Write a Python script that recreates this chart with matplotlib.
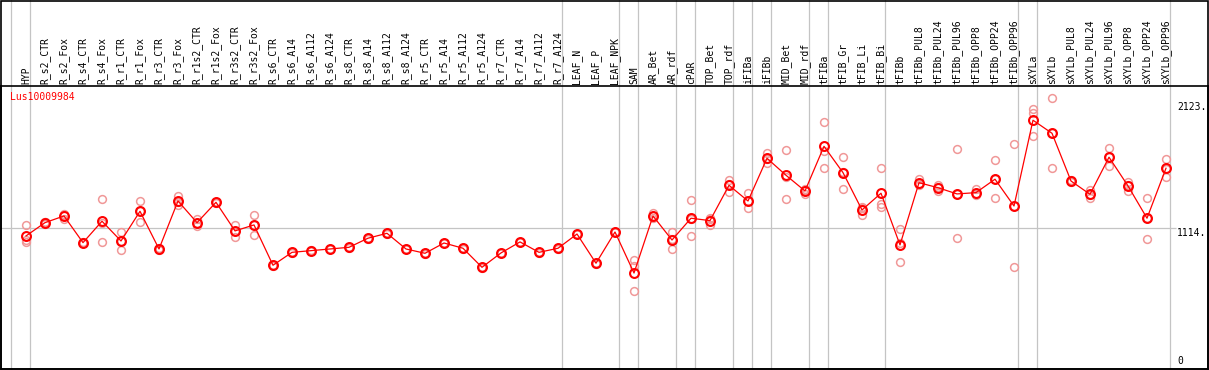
import matplotlib
matplotlib.use("Agg")
import matplotlib.pyplot as plt
from matplotlib.transforms import blended_transform_factory
from matplotlib.patches import Rectangle

gene = "Lus10009984"

samples = ["HYP", "R_s2_CTR", "R_s2_Fox", "R_s4_CTR", "R_s4_Fox", "R_r1_CTR", "R_r1_Fox",
           "R_r3_CTR", "R_r3_Fox", "R_r1s2_CTR", "R_r1s2_Fox", "R_r3s2_CTR", "R_r3s2_Fox",
           "R_s6_CTR", "R_s6_A14", "R_s6_A112", "R_s6_A124", "R_s8_CTR", "R_s8_A14",
           "R_s8_A112", "R_s8_A124", "R_r5_CTR", "R_r5_A14", "R_r5_A112", "R_r5_A124",
           "R_r7_CTR", "R_r7_A14", "R_r7_A112", "R_r7_A124", "LEAF_N", "LEAF_P", "LEAF_NPK",
           "SAM", "AR_Bet", "AR_rdf", "cPAR", "TOP_Bet", "TOP_rdf", "iFIBa", "iFIBb",
           "MID_Bet", "MID_rdf", "tFIBa", "tFIB_Gr", "tFIB_Li", "tFIB_Bi", "tFIBb",
           "tFIBb_PUL8", "tFIBb_PUL24", "tFIBb_PUL96", "tFIBb_OPP8", "tFIBb_OPP24",
           "tFIBb_OPP96", "sXYLa", "sXYLb", "sXYLb_PUL8", "sXYLb_PUL24", "sXYLb_PUL96",
           "sXYLb_OPP8", "sXYLb_OPP24", "sXYLb_OPP96"]

means = [1045, 1156, 1212, 989, 1168, 1003, 1251, 936, 1337, 1156, 1326, 1087, 1137,
         800, 908, 922, 936, 950, 1026, 1067, 936, 900, 986, 942, 783, 903, 995, 908,
         942, 1061, 817, 1078, 735, 1212, 1011, 1193, 1173, 1468, 1337, 1694, 1552,
         1421, 1794, 1574, 1262, 1402, 970, 1490, 1448, 1396, 1407, 1519, 1295, 2012,
         1903, 1504, 1393, 1703, 1463, 1193, 1611]

replicates = [
    [1137, 1011, 995], [1145, 1160, 1165], [1220, 1187, 1230], [985, 990, 993],
    [1354, 995, 1155], [1076, 928, 1005], [1335, 1162, 1256], [930, 936, 942],
    [1382, 1301, 1328], [1187, 1128, 1153], [1320, 1326, 1332], [1137, 1034, 1090],
    [1220, 1051, 1140], [797, 800, 803], [905, 908, 911], [919, 922, 925],
    [933, 936, 939], [947, 950, 953], [1023, 1026, 1029], [1064, 1067, 1070],
    [933, 936, 939], [897, 900, 903], [983, 986, 989], [939, 942, 945],
    [780, 783, 786], [900, 903, 906], [992, 995, 998], [905, 908, 911],
    [939, 942, 945], [1058, 1061, 1064], [814, 817, 820], [1075, 1078, 1081],
    [844, 797, 585], [1234, 1193, 1210], [1076, 936, 1021], [1346, 1045, 1188],
    [1198, 1137, 1184], [1513, 1415, 1476], [1402, 1276, 1333], [1741, 1652, 1689],
    [1761, 1354, 1541], [1393, 1430, 1440], [1995, 1758, 1611], [1703, 1438, 1581],
    [1285, 1220, 1281], [1611, 1312, 1285], [1101, 825, 984], [1521, 1471, 1478],
    [1471, 1423, 1450], [1769, 1026, 1393], [1435, 1387, 1399], [1677, 1360, 1520],
    [1811, 783, 1291], [2106, 2070, 1881], [2196, 1611, 1902], [1495, 1504, 1513],
    [1429, 1365, 1385], [1778, 1630, 1701], [1499, 1423, 1467], [1360, 1020, 1199],
    [1686, 1540, 1607]]

# group separators: drawn after these sample indices (-1 = left edge)
group_breaks = [-1, 0, 28, 31, 32, 34, 35, 37, 38, 39, 41, 42, 45, 52, 53, 60]

y_ticks = [2123, 1114, 0]
y_tick_labels = ["2123.", "1114.", "0"]
ref_level = 1114

W, H = 1209, 370
fig = plt.figure(figsize=(W / 100, H / 100), dpi=100)
mono = "DejaVu Sans Mono"

# axes: pixel x 1..1208, y 86..369 (from top)
ax = fig.add_axes([1 / W, (H - 369) / H, 1207 / W, (369 - 86) / H])
ax.set_xlim((1 - 26) / 19, (1208 - 26) / 19)
ax.set_ylim(-67, 2298)
for s in ax.spines.values():
    s.set_color("black")
    s.set_linewidth(1.2)
ax.set_yticks([])
ax.set_xticks(range(len(samples)))
ax.xaxis.tick_top()
ax.set_xticklabels(samples, rotation=90, fontsize=7, family=mono)
ax.tick_params(axis="x", length=0, pad=1.5)

# grid lines
ytop = (369 - 0) / (369 - 86)
for b in group_breaks:
    ax.axvline(b + 0.2, ymin=0, ymax=ytop, color="#c4c4c4", lw=0.9, clip_on=False, zorder=0)
ax.hlines(ref_level, ax.get_xlim()[0], (1176 - 26) / 19, color="#c4c4c4", lw=0.9, zorder=0)

x = list(range(len(samples)))
for i, reps in enumerate(replicates):
    ax.plot([i] * len(reps), reps, linestyle="none", marker="o", ms=5.6,
            mfc="none", mec="#f09898", mew=1.1, zorder=2)
ax.plot(x, means, color="red", lw=0.9, zorder=3)
ax.plot(x, means, linestyle="none", marker="o", ms=6.4, mfc="none", mec="red",
        mew=1.5, zorder=4)

# y labels on the right
tr = blended_transform_factory(ax.transAxes, ax.transData)
xl = (1177 - 1) / 1207
for v, lab in zip(y_ticks, y_tick_labels):
    va = "top" if v == ref_level else "center"
    ax.text(xl, v, lab, transform=tr, ha="left", va=va, fontsize=7, family=mono,
            color="black")

fig.text(10 / W, 1 - 97 / H, gene, color="red", fontsize=7, family=mono,
         ha="left", va="center")

# figure border
fig.add_artist(Rectangle((0.5 / W, 1.5 / H), (W - 2) / W, (H - 2.5) / H,
                         transform=fig.transFigure, fill=False, ec="black", lw=1.2))

fig.savefig("out.png", dpi=100)
